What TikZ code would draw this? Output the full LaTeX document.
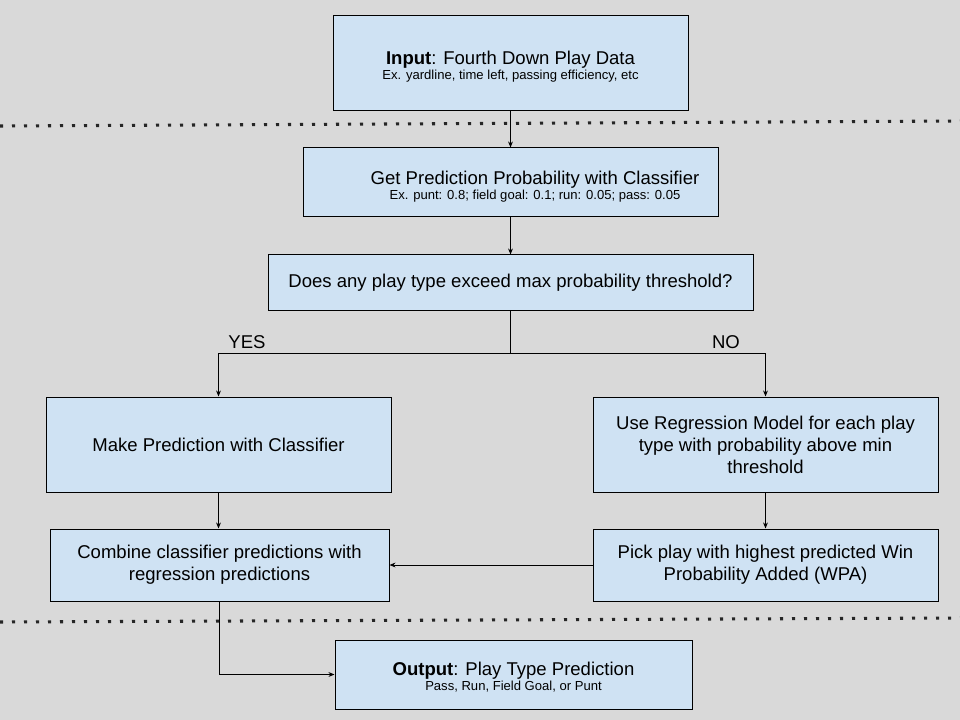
\documentclass[tikz,border=0pt]{standalone}
\usepackage{fontspec}
\setmainfont{Liberation Sans}
\usetikzlibrary{arrows.meta}
\definecolor{bg}{HTML}{D9D9D9}
\definecolor{boxfill}{HTML}{CFE2F3}
\newcommand{\mainsz}{\fontsize{13.9pt}{16.5pt}\selectfont}
\newcommand{\smallsz}{\fontsize{9.8pt}{12pt}\selectfont}
\tikzset{
  box/.style={draw=black, fill=boxfill, line width=0.75pt, align=center, inner sep=0pt, font=\mainsz},
  conn/.style={draw=black, line width=0.7pt},
  arr/.style={conn, -{Stealth[length=4.5pt,width=3.6pt]}},
  dotline/.style={draw=black!85, line width=2.3pt, dash pattern=on 2.3pt off 6.7pt, line cap=butt},
  lbl/.style={font=\mainsz, inner sep=0pt}
}
\begin{document}
\begin{tikzpicture}[x=0.75pt,y=-0.75pt]
\fill[bg] (0,0) rectangle (960,720);
\useasboundingbox (0,0) rectangle (960,720);

\coordinate (d1a) at (0,126);
\coordinate (d1b) at (960,121);
\coordinate (d2a) at (0,622);
\coordinate (d2b) at (960,618);
\draw[dotline] (d1a) -- (d1b);
\draw[dotline] (d2a) -- (d2b);

\node[box, minimum width={355*0.75pt}, minimum height={95*0.75pt}] (in) at (510.5,63.5)
  {\rule{0pt}{14.6pt}\textbf{Input}: Fourth Down Play Data\\[-5pt] {\smallsz Ex. yardline, time left, passing efficiency, etc}};
\node[box, minimum width={415*0.75pt}, minimum height={69*0.75pt}] (gp) at (510.5,182.5) {};
\node[lbl, align=center] (gpt) at (535,186.5)
  {Get Prediction Probability with Classifier\\[-5pt] {\smallsz Ex. punt: 0.8; field goal: 0.1; run: 0.05; pass: 0.05}};
\node[box, minimum width={485*0.75pt}, minimum height={55*0.75pt}] (dec) at (510.5,282.5)
  {Does any play type exceed max probability threshold?};
\node[box, minimum width={345*0.75pt}, minimum height={95*0.75pt}] (mp) at (218.5,444.5)
  {Make Prediction with Classifier};
\node[box, minimum width={345*0.75pt}, minimum height={95*0.75pt}] (ur) at (765.5,444.5)
  {Use Regression Model for each play\\ type with probability above min\\ threshold};
\node[box, minimum width={339*0.75pt}, minimum height={72*0.75pt}] (cb) at (219.5,565)
  {Combine classifier predictions with\\ regression predictions};
\node[box, minimum width={345*0.75pt}, minimum height={72*0.75pt}] (pp) at (765.5,565)
  {Pick play with highest predicted Win\\ Probability Added (WPA)};
\node[box, minimum width={357*0.75pt}, minimum height={69*0.75pt}] (out) at (513.5,674.5)
  {\rule{0pt}{13.9pt}\textbf{Output}: Play Type Prediction\\[-5pt] {\smallsz Pass, Run, Field Goal, or Punt}};

\node[lbl] (yes) at (247,342) {YES};
\node[lbl] (no) at (726,342) {NO};

\coordinate (br) at (510.5,353);
\draw[arr] (in.south) -- (gp.north);
\draw[arr] (gp.south) -- (dec.north);
\draw[conn] (dec.south) -- (br);
\draw[arr] (br) -| (mp.north);
\draw[arr] (br) -| (ur.north);
\draw[arr] (mp.south) -- (mp.south |- cb.north);
\draw[arr] (ur.south) -- (pp.north);
\draw[arr] (pp.west) -- (cb.east |- pp.west);
\draw[arr] (cb.south) |- (out.west);
\end{tikzpicture}
\end{document}
